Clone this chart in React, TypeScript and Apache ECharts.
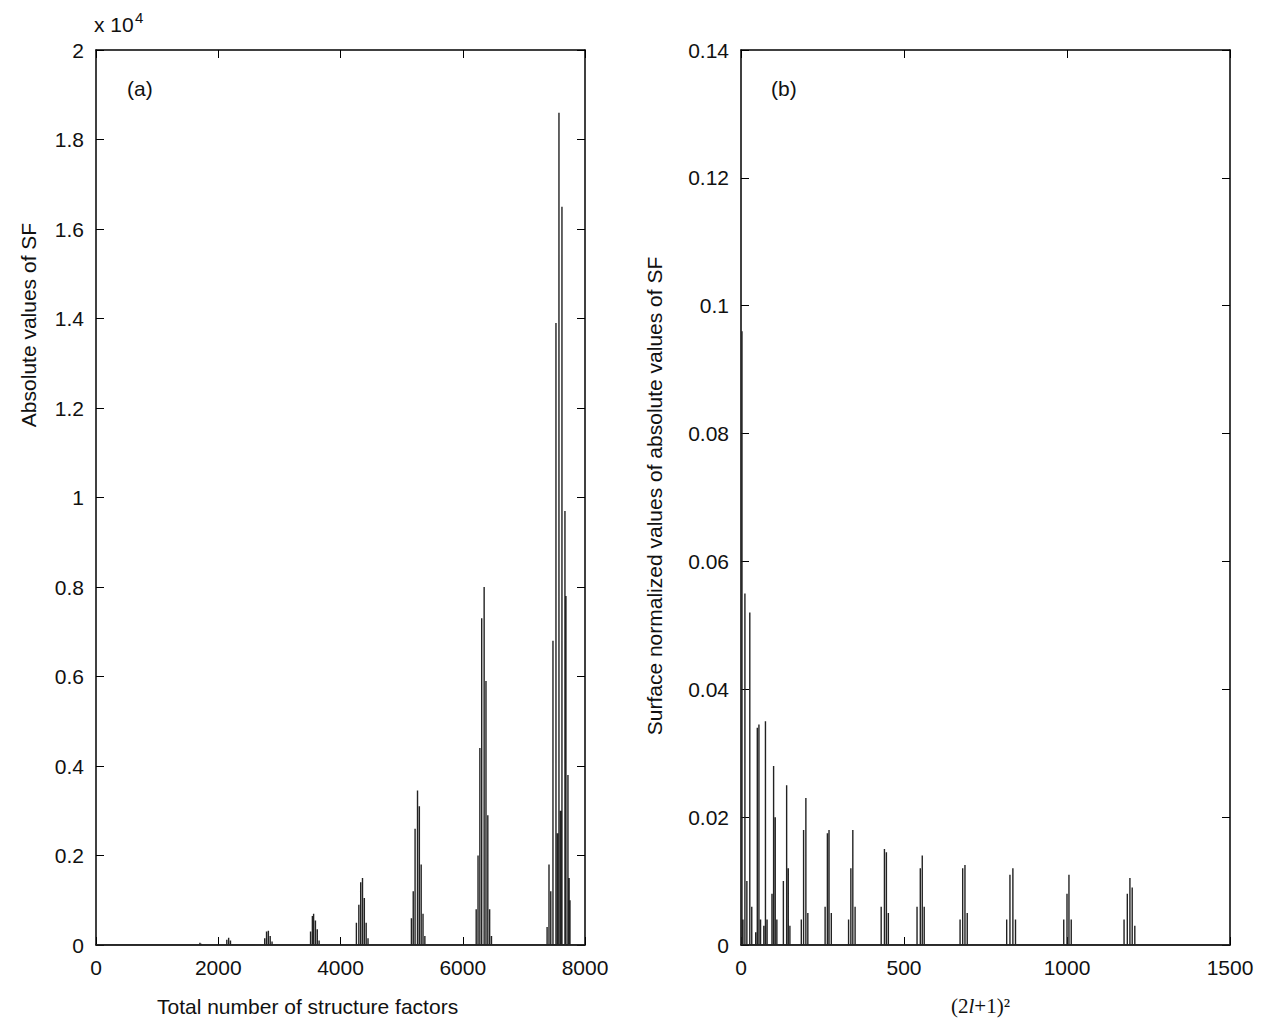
import { useEffect, useRef } from 'react'
import * as echarts from 'echarts'

// panel (a): spikes [index, |SF|] (|SF| in units of 1e4)
const spikesA: number[][] = [
  [1700, 0.005], [1720, 0.003],
  [2140, 0.012], [2170, 0.016], [2200, 0.01],
  [2760, 0.015], [2790, 0.03], [2820, 0.032], [2850, 0.02], [2880, 0.008],
  [3510, 0.03], [3540, 0.065], [3560, 0.07], [3590, 0.055], [3620, 0.035], [3650, 0.01],
  [4260, 0.05], [4300, 0.09], [4330, 0.14], [4360, 0.15], [4390, 0.105], [4420, 0.05], [4450, 0.015],
  [5160, 0.06], [5190, 0.12], [5220, 0.26], [5260, 0.345], [5290, 0.31], [5320, 0.18], [5350, 0.07], [5380, 0.02],
  [6220, 0.08], [6250, 0.2], [6280, 0.44], [6310, 0.73], [6350, 0.8], [6380, 0.59], [6410, 0.29], [6440, 0.08], [6470, 0.02],
  [7380, 0.04], [7411, 0.18], [7440, 0.12], [7476, 0.68], [7525, 1.39], [7550, 0.25], [7574, 1.86],
  [7600, 0.3], [7623, 1.65], [7672, 0.97], [7688, 0.78], [7721, 0.38], [7740, 0.15], [7754, 0.1],
]

// panel (b): spikes [(2l+1)^2, normalized |SF|]
const spikesB: number[][] = [
  [3, 0.096], [6, 0.004], [12, 0.055], [18, 0.01], [27, 0.052], [33, 0.006],
  [45, 0.002], [50, 0.034], [55, 0.0345], [60, 0.004],
  [70, 0.003], [75, 0.035], [80, 0.004],
  [95, 0.008], [100, 0.028], [105, 0.02], [110, 0.004],
  [130, 0.01], [140, 0.025], [145, 0.012], [150, 0.003],
  [185, 0.004], [192, 0.018], [199, 0.023], [205, 0.005],
  [258, 0.006], [265, 0.0175], [270, 0.018], [277, 0.005],
  [330, 0.004], [337, 0.012], [343, 0.018], [350, 0.006],
  [430, 0.006], [440, 0.015], [446, 0.0145], [452, 0.005],
  [540, 0.006], [550, 0.012], [556, 0.014], [562, 0.006],
  [672, 0.004], [680, 0.012], [687, 0.0125], [694, 0.005],
  [815, 0.004], [825, 0.011], [834, 0.012], [842, 0.004],
  [990, 0.004], [1000, 0.008], [1006, 0.011], [1013, 0.004],
  [1175, 0.004], [1185, 0.008], [1193, 0.0105], [1200, 0.009], [1208, 0.003],
]

const toLine = (sp: number[][], endX: number) => {
  const out: number[][] = [[0, 0]]
  sp.forEach(([x, y]) => { out.push([x, 0], [x, y], [x, 0]) })
  out.push([endX, 0])
  return out
}

const font = 'Liberation Sans, Arial, sans-serif'
const lbl = { color: '#111', fontSize: 21, fontFamily: font, margin: 12 }

const axisPair = (grid: number, min: number, max: number, interval: number, fmt: any, dim: 'x' | 'y') => [
  {
    type: 'value', gridIndex: grid, min, max, interval, position: dim === 'x' ? 'bottom' : 'left',
    axisLine: { show: true, onZero: false, lineStyle: { color: '#000', width: 1.5 } },
    axisTick: { show: true, inside: true, length: 8, lineStyle: { color: '#000' } },
    axisLabel: { ...lbl, formatter: fmt },
    splitLine: { show: false },
  },
  {
    type: 'value', gridIndex: grid, min, max, interval, position: dim === 'x' ? 'top' : 'right',
    axisLine: { show: true, onZero: false, lineStyle: { color: '#000', width: 1.5 } },
    axisTick: { show: true, inside: true, length: 8, lineStyle: { color: '#000' } },
    axisLabel: { show: false },
    splitLine: { show: false },
  },
]

export default function App() {
  const ref = useRef<HTMLDivElement>(null)

  useEffect(() => {
    if (!ref.current) return
    const chart = echarts.init(ref.current, null, { renderer: 'svg' })
    chart.setOption({
      animation: false,
      backgroundColor: '#fff',
      grid: [
        { left: 96, right: 689, top: 50, bottom: 86 },
        { left: 741, right: 44, top: 50, bottom: 86 },
      ],
      xAxis: [
        ...axisPair(0, 0, 8000, 2000, (v: number) => String(v), 'x'),
        ...axisPair(1, 0, 1500, 500, (v: number) => String(v), 'x'),
      ],
      yAxis: [
        ...axisPair(0, 0, 2, 0.2, (v: number) => String(+v.toFixed(1)), 'y'),
        ...axisPair(1, 0, 0.14, 0.02, (v: number) => String(+v.toFixed(2)), 'y'),
      ],
      series: [
        {
          type: 'line', xAxisIndex: 0, yAxisIndex: 0, data: toLine(spikesA, 8000),
          showSymbol: false, lineStyle: { color: '#222', width: 1.4 }, z: 1,
        },
        {
          type: 'line', xAxisIndex: 2, yAxisIndex: 2, data: toLine(spikesB, 1500),
          showSymbol: false, lineStyle: { color: '#222', width: 1.4 }, z: 1,
        },
      ],
      graphic: [
        { type: 'text', left: 94, top: 14, style: { text: 'x 10', fontSize: 21, fontFamily: font, fill: '#111' } },
        { type: 'text', left: 135, top: 10, style: { text: '4', fontSize: 15, fontFamily: font, fill: '#111' } },
        { type: 'text', left: 127, top: 78, style: { text: '(a)', fontSize: 21, fontFamily: font, fill: '#111' } },
        { type: 'text', left: 771, top: 78, style: { text: '(b)', fontSize: 21, fontFamily: font, fill: '#111' } },
        { type: 'text', left: 157, top: 996, style: { text: 'Total number of structure factors', fontSize: 21, fontFamily: font, fill: '#111' } },
        {
          type: 'text', left: 951, top: 995,
          style: {
            text: '{a|(2}{b|l}{a|+1)²}',
            rich: {
              a: { fontSize: 21, fontFamily: 'Liberation Serif, serif', fill: '#111' },
              b: { fontSize: 21, fontFamily: 'Liberation Serif, serif', fontStyle: 'italic', fill: '#111' },
            },
          },
        },
        {
          type: 'text', x: 28, y: 325, rotation: Math.PI / 2, style: {
            text: 'Absolute values of SF', fontSize: 21, fontFamily: font, fill: '#111',
            align: 'center', verticalAlign: 'middle',
          },
        },
        {
          type: 'text', x: 654, y: 496, rotation: Math.PI / 2, style: {
            text: 'Surface normalized values of absolute values of SF', fontSize: 21, fontFamily: font, fill: '#111',
            align: 'center', verticalAlign: 'middle',
          },
        },
      ],
    })
    return () => chart.dispose()
  }, [])

  return <div ref={ref} style={{ position: 'absolute', left: 0, top: 0, width: 1274, height: 1031 }} />
}
